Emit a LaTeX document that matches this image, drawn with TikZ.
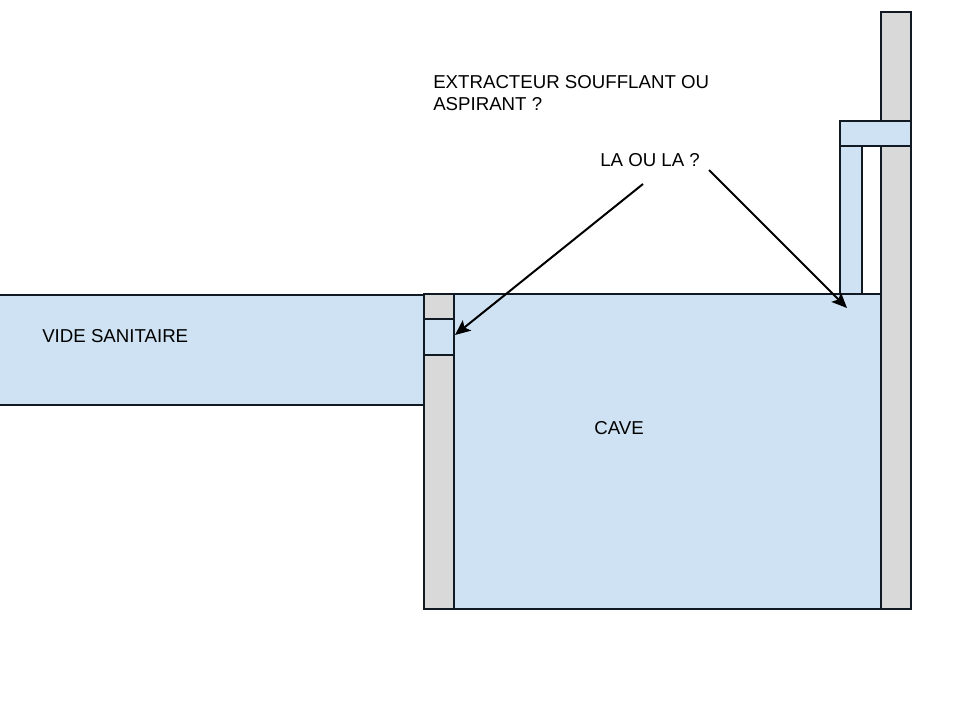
\documentclass[tikz,border=0pt]{standalone}
\usepackage{fontspec}
\setmainfont{Liberation Sans}
\usetikzlibrary{arrows.meta}
\definecolor{airblue}{HTML}{CFE2F3}
\definecolor{wallgrey}{HTML}{D9D9D9}
\definecolor{inkline}{HTML}{111A22}
\newcommand{\pxbox}[6]{% style, name, x0, y0, x1, y1
  \pgfmathsetmacro{\pxw}{#5-#3}\pgfmathsetmacro{\pxh}{#6-#4}
  \pgfmathsetmacro{\pxx}{(#3+#5)/2}\pgfmathsetmacro{\pxy}{(#4+#6)/2}
  \node[#1,minimum width=\pxw*\pxu,minimum height=\pxh*\pxu] (#2) at (\pxx,\pxy) {};}
\newcommand{\pxu}{0.75pt}
\tikzset{
  air/.style={draw=inkline,fill=airblue,line width=1.4pt,inner sep=0pt,outer sep=0pt},
  wall/.style={draw=inkline,fill=wallgrey,line width=1.4pt,inner sep=0pt,outer sep=0pt},
  lbl/.style={font=\fontsize{14pt}{16.6pt}\selectfont,text=black,inner sep=0pt,align=left},
  pointer/.style={draw=black,line width=1.5pt,-{Stealth[length=11.5pt,width=10pt,inset=2.5pt]}}
}
\begin{document}
\begin{tikzpicture}[x=0.75pt,y=-0.75pt]
\useasboundingbox (0,0) rectangle (960,720);
\pxbox{air}{vide}{-4}{295}{424}{405}
\pxbox{air}{cave}{454}{294}{881}{609}
\pxbox{wall}{leftwall}{424}{294}{454}{609}
\pxbox{air}{leftvent}{424}{319}{454}{355}
\pxbox{wall}{rightwall}{881}{12}{911}{609}
\pxbox{air}{duct}{840}{146}{862}{294}
\pxbox{air}{topvent}{840}{121}{911}{146}
\node[lbl,anchor=north west] (question) at (433,75) {EXTRACTEUR SOUFFLANT OU\\ASPIRANT ?};
\node[lbl,anchor=west] (laou) at (600,160) {LA OU LA ?};
\node[lbl,anchor=west] (videlabel) at (42,336) {VIDE SANITAIRE};
\node[lbl,anchor=west] (cavelabel) at (594,428) {CAVE};
\coordinate (s1) at (643,184);
\coordinate (e1) at (455,335);
\coordinate (s2) at (709,170);
\coordinate (e2) at (847,308);
\draw[pointer] (s1) -- (e1);
\draw[pointer] (s2) -- (e2);
\end{tikzpicture}
\end{document}
